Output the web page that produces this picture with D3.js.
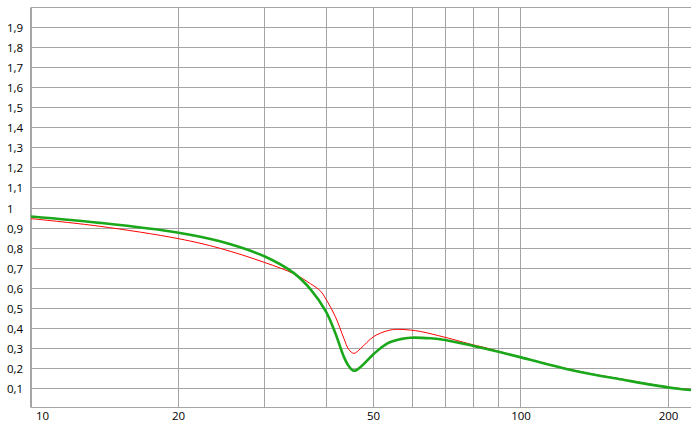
<!DOCTYPE html>
<html>
<head>
<meta charset="utf-8">
<script src="https://cdn.jsdelivr.net/npm/d3@7/dist/d3.min.js"></script>
<style>
  html, body { margin: 0; padding: 0; background: #fff; }
  svg { display: block; }
  text { font-family: "Open Sans", "Noto Sans", sans-serif; font-size: 11.5px; fill: #000; }
</style>
</head>
<body>
<svg id="chart" width="691" height="432"></svg>
<script>
// ---- data ----
const gridX = [10, 20, 30, 40, 50, 60, 70, 80, 90, 100, 200];
const labelX = [10, 20, 50, 100, 200];
const gridY = [0.1, 0.2, 0.3, 0.4, 0.5, 0.6, 0.7, 0.8, 0.9, 1, 1.1, 1.2, 1.3, 1.4, 1.5, 1.6, 1.7, 1.8, 1.9, 2];
const labelY = [0.1, 0.2, 0.3, 0.4, 0.5, 0.6, 0.7, 0.8, 0.9, 1, 1.1, 1.2, 1.3, 1.4, 1.5, 1.6, 1.7, 1.8, 1.9];

const redX = [10, 13.8, 20, 24.3, 30, 34.4, 37.2, 39, 40, 41.8, 43.5, 44.5, 45.6, 47.1, 50, 53.4, 55.9, 59.5, 62.4, 70, 80, 84, 90, 100, 128.5, 162.6, 200, 222.5];
const redY = [0.947, 0.909, 0.847, 0.799, 0.728, 0.672, 0.622, 0.585, 0.545, 0.458, 0.35, 0.295, 0.275, 0.30, 0.358, 0.388, 0.395, 0.391, 0.384, 0.355, 0.317, 0.305, 0.285, 0.256, 0.19, 0.144, 0.107, 0.094];

const greenX = [10, 13.8, 20, 24.3, 30, 34.4, 37.2, 40, 41.8, 43.5, 44.5, 45.6, 47.1, 50, 53.4, 56.8, 59.5, 65.4, 70, 80, 90, 100, 128.5, 162.6, 200, 222.5];
const greenY = [0.958, 0.926, 0.877, 0.834, 0.758, 0.675, 0.594, 0.483, 0.375, 0.258, 0.212, 0.188, 0.208, 0.271, 0.325, 0.346, 0.353, 0.35, 0.342, 0.312, 0.283, 0.255, 0.188, 0.142, 0.105, 0.092];

// ---- layout ----
const W = 691, H = 432;
const plotLeft = 31, plotBottom = 407.5, plotTop = 7.5;
const svg = d3.select("#chart");

const x = d3.scaleLog().domain([20, 200]).range([178.5, 668.5]);
const y = d3.scaleLinear().domain([0, 2]).range([408.5, 7.5]);
const crisp = v => Math.round(v - 0.5) + 0.5;

const gridColor = "#a5a5a5";

// horizontal grid lines
svg.append("g").selectAll("line").data(gridY).join("line")
  .attr("x1", plotLeft).attr("x2", W)
  .attr("y1", d => crisp(y(d))).attr("y2", d => crisp(y(d)))
  .attr("stroke", gridColor).attr("stroke-width", 1);

// vertical grid lines
svg.append("g").selectAll("line").data(gridX).join("line")
  .attr("x1", d => crisp(x(d))).attr("x2", d => crisp(x(d)))
  .attr("y1", crisp(y(2))).attr("y2", plotBottom)
  .attr("stroke", gridColor).attr("stroke-width", 1);

// axis lines
svg.append("line").attr("x1", crisp(plotLeft)).attr("x2", crisp(plotLeft))
  .attr("y1", crisp(y(2))).attr("y2", plotBottom + 0.5)
  .attr("stroke", gridColor);
svg.append("line").attr("x1", plotLeft).attr("x2", W)
  .attr("y1", plotBottom).attr("y2", plotBottom)
  .attr("stroke", gridColor);

// y labels
const fmtY = d => (d === 1 ? "1" : d3.format(".1f")(d).replace(".", ","));
svg.append("g").selectAll("text").data(labelY).join("text")
  .attr("x", 7).attr("y", d => crisp(y(d)) + 4)
  .attr("text-anchor", "start")
  .text(fmtY);

// x labels
svg.append("g").selectAll("text").data(labelX).join("text")
  .attr("x", d => d === 10 ? x(d) + 5 : x(d))
  .attr("y", 419.5)
  .attr("text-anchor", d => d === 10 ? "start" : "middle")
  .text(d => d);

// clip
svg.append("clipPath").attr("id", "plot").append("rect")
  .attr("x", plotLeft).attr("y", plotTop).attr("width", W - plotLeft).attr("height", plotBottom - plotTop);

const line = d3.line().curve(d3.curveCatmullRom.alpha(0.5))
  .x(d => x(d[0])).y(d => y(d[1]));

const redData = redX.map((v, i) => [v, redY[i]]);
const greenData = greenX.map((v, i) => [v, greenY[i]]);

const g = svg.append("g").attr("clip-path", "url(#plot)");
g.append("path").datum(redData).attr("d", line)
  .attr("fill", "none").attr("stroke", "#ff0000").attr("stroke-width", 1);
g.append("path").datum(greenData).attr("d", line)
  .attr("fill", "none").attr("stroke", "#1aa81a").attr("stroke-width", 2.6);
</script>
</body>
</html>
